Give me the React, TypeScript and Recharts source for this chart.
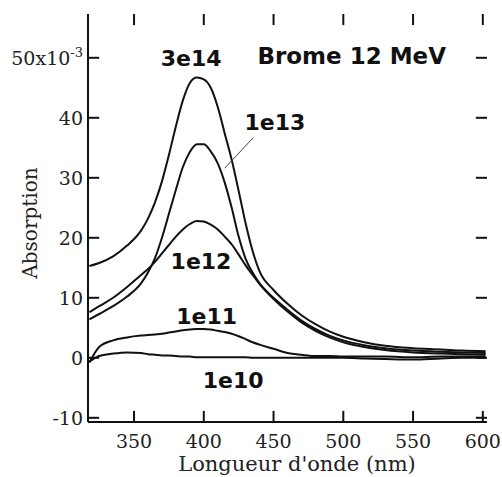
import { LineChart, Line, XAxis, YAxis, ReferenceDot, ReferenceLine } from "recharts";

// wavelength (nm) and absorption (x10^-3) per fluence
const wavelengths = [318, 325, 335, 345, 355, 360, 365, 370, 375, 380, 385, 390, 395, 400, 405, 410, 415, 420, 425, 430, 435, 440, 450, 460, 470, 480, 490, 500, 515, 530, 550, 570, 585, 602];
const dose3e14 = [15.3, 15.8, 16.9, 18.7, 21.2, 23.2, 25.9, 29.4, 33.8, 38.6, 42.9, 45.8, 46.7, 46.4, 45.0, 41.8, 37.4, 33.0, 27.8, 22.4, 17.8, 14.4, 11.3, 9.0, 7.1, 5.6, 4.4, 3.5, 2.6, 2.0, 1.6, 1.4, 1.2, 1.1];
const dose1e13 = [6.4, 7.3, 8.6, 10.2, 12.4, 14.2, 16.6, 20.0, 24.0, 28.0, 31.8, 34.3, 35.6, 35.6, 34.4, 32.4, 29.2, 25.0, 20.2, 16.5, 14.2, 12.4, 10.0, 8.0, 6.2, 4.8, 3.7, 2.9, 2.1, 1.6, 1.2, 1.0, 0.9, 0.8];
const dose1e12 = [7.6, 8.6, 10.0, 11.8, 13.8, 14.8, 16.0, 17.4, 18.8, 20.2, 21.4, 22.3, 22.8, 22.7, 22.2, 21.4, 20.2, 18.9, 17.2, 15.4, 13.8, 12.3, 9.8, 7.7, 5.9, 4.5, 3.4, 2.6, 1.8, 1.3, 0.9, 0.7, 0.6, 0.5];
const dose1e11 = [-0.8, 1.8, 2.9, 3.4, 3.7, 3.8, 3.9, 4.0, 4.2, 4.4, 4.6, 4.7, 4.8, 4.8, 4.7, 4.5, 4.3, 4.0, 3.6, 3.1, 2.6, 2.2, 1.5, 0.8, 0.5, 0.3, 0.3, 0.2, 0.2, 0.2, 0.1, 0.2, 0.2, 0.2];
const dose1e10 = [-0.6, 0.3, 0.7, 0.9, 0.8, 0.6, 0.5, 0.4, 0.4, 0.3, 0.2, 0.2, 0.1, 0.1, 0.1, 0.1, 0.1, 0.1, 0.1, 0.1, 0.0, 0.0, 0.0, 0.0, 0.0, 0.0, 0.0, 0.0, -0.1, -0.2, -0.3, -0.1, 0.0, 0.0];

const seriesKeys = ["d3e14", "d1e13", "d1e12", "d1e11", "d1e10"];
const xTicks = [350, 400, 450, 500, 550, 600];
const yTicks = [-10, 0, 10, 20, 30, 40, 50];
const xDomain = [317, 603];
const yDomain = [-10.7, 57.3];

// curve labels, in data coordinates
const labelTexts = ["3e14", "1e13", "1e12", "1e11", "1e10", "Brome 12 MeV"];
const labelX = [391, 451, 398, 402, 421, 506];
const labelY = [48.7, 37.9, 14.8, 5.7, -5.0, 49.0];
const leaderFrom = { x: 435.5, y: 36.7 };
const leaderTo = { x: 415, y: 31.6 };

const data = wavelengths.map((w, i) => ({
  w,
  d3e14: dose3e14[i],
  d1e13: dose1e13[i],
  d1e12: dose1e12[i],
  d1e11: dose1e11[i],
  d1e10: dose1e10[i],
}));

const W = 502;
const H = 477;
const PLOT = { left: 88, top: 14, right: 487, bottom: 422 };
// inward tick length, in data units (about 11px each way)
const TICK_X = 8;
const TICK_Y = 1.85;
const serif = "'DejaVu Serif', serif";
const bold = "'DejaVu Sans', sans-serif";
const frame = { stroke: "#111", strokeWidth: 2 };

const LeftTick = ({ y, payload }: any) => (
  <text x={83} y={y} dy="0.36em" textAnchor="end" fontFamily={serif} fontSize={19} fill="#222">
    {payload.value === 50 ? (
      <>
        50x10<tspan dy={-8} fontSize={13}>-3</tspan>
      </>
    ) : (
      payload.value
    )}
  </text>
);

const BottomTick = ({ x, payload }: any) => (
  <text x={x} y={448} textAnchor="middle" fontFamily={serif} fontSize={19} fill="#222">
    {payload.value}
  </text>
);

const makeLabel = (text: string) => (props: any) => (
  <text
    x={props.cx}
    y={props.cy}
    textAnchor="middle"
    fontFamily={bold}
    fontWeight="bold"
    fontSize={text.length > 5 ? 23 : 22}
    fill="#111"
  >
    {text}
  </text>
);

// inward tick marks on all four sides of the frame
const tickSegments = [
  ...yTicks.map((v) => [{ x: xDomain[0], y: v }, { x: xDomain[0] + TICK_X, y: v }]),
  ...yTicks.map((v) => [{ x: xDomain[1] - TICK_X, y: v }, { x: xDomain[1], y: v }]),
  ...xTicks.map((v) => [{ x: v, y: yDomain[0] }, { x: v, y: yDomain[0] + TICK_Y }]),
  ...xTicks.map((v) => [{ x: v, y: yDomain[1] - TICK_Y }, { x: v, y: yDomain[1] }]),
];

export default function App() {
  return (
    <div style={{ position: "absolute", left: 0, top: 0, width: W, height: H, background: "#fff" }}>
      <LineChart
        width={W}
        height={H}
        data={data}
        margin={{ top: PLOT.top, right: W - PLOT.right, bottom: 0, left: 0 }}
      >
        <XAxis
          dataKey="w"
          type="number"
          domain={xDomain}
          ticks={xTicks}
          height={H - PLOT.bottom}
          axisLine={frame}
          tickLine={false}
          tick={<BottomTick />}
          interval={0}
        />
        <XAxis
          xAxisId="top"
          dataKey="w"
          type="number"
          orientation="top"
          domain={xDomain}
          ticks={xTicks}
          height={0}
          axisLine={frame}
          tickLine={false}
          tick={false}
        />
        <YAxis
          type="number"
          domain={yDomain}
          ticks={yTicks}
          width={PLOT.left}
          axisLine={frame}
          tickLine={false}
          tick={<LeftTick />}
          interval={0}
          label={{
            value: "Absorption",
            angle: -90,
            position: "insideLeft",
            offset: 0,
            dx: 30,
            dy: 5,
            style: { fontFamily: serif, fontSize: 20, fill: "#222", textAnchor: "middle" },
          }}
        />
        <YAxis
          yAxisId="right"
          type="number"
          orientation="right"
          domain={yDomain}
          ticks={yTicks}
          width={0}
          axisLine={frame}
          tickLine={false}
          tick={false}
        />
        {tickSegments.map((seg, i) => (
          <ReferenceLine
            key={`t${i}`}
            segment={seg}
            stroke="#111"
            strokeWidth={2}
            ifOverflow="visible"
          />
        ))}
        {seriesKeys.map((k) => (
          <Line
            key={k}
            dataKey={k}
            type="monotone"
            stroke="#111"
            strokeWidth={2}
            dot={false}
            isAnimationActive={false}
          />
        ))}
        <ReferenceLine segment={[leaderFrom, leaderTo]} stroke="#444" strokeWidth={1} />
        {labelTexts.map((t, i) => (
          <ReferenceDot
            key={t}
            x={labelX[i]}
            y={labelY[i]}
            r={0}
            shape={makeLabel(t)}
            ifOverflow="visible"
          />
        ))}
        <text x={297} y={471} textAnchor="middle" fontFamily={serif} fontSize={21} fill="#222">
          Longueur d'onde (nm)
        </text>
      </LineChart>
    </div>
  );
}
